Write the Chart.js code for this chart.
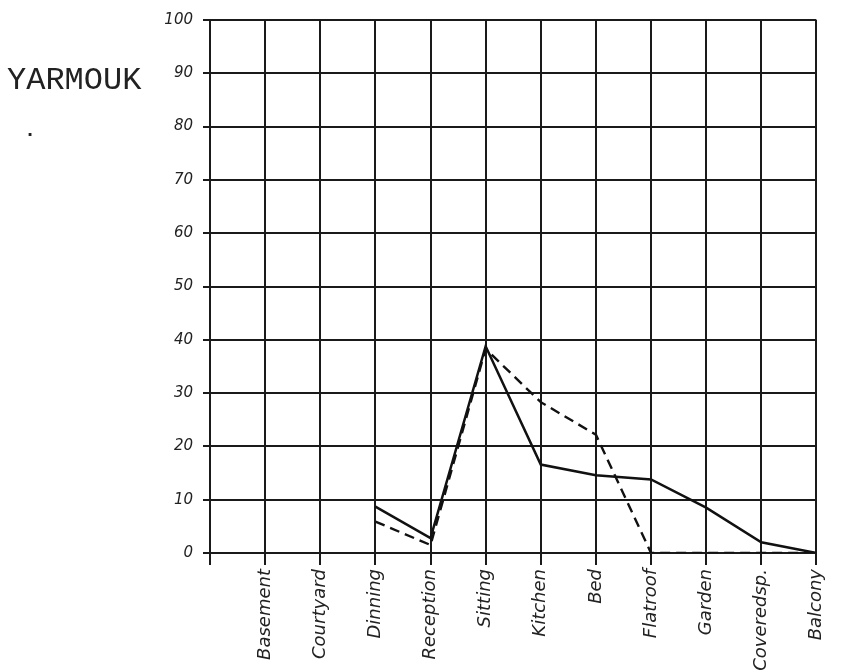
<!DOCTYPE html>
<html>
<head>
<meta charset="utf-8">
<script src="https://cdn.jsdelivr.net/npm/chart.js@4/dist/chart.umd.min.js"></script>
<style>
  html, body { margin:0; padding:0; background:#fff; }
  #wrap { width:842px; height:672px; position:relative; }
</style>
</head>
<body>
<div id="wrap"><canvas id="c" width="842" height="672"></canvas></div>
<script>
// rooms along the bottom (first grid line is the y axis itself)
const categories = ['Basement','Courtyard','Dinning','Reception','Sitting','Kitchen','Bed','Flatroof','Garden','Coveredsp.','Balcony'];
// solid line
const solidValues  = [null, null, 8.7, 2.8, 38.8, 16.6, 14.6, 13.8, 8.5, 2.0, 0];
// dashed line
const dashedValues = [null, null, 5.9, 1.5, 38.3, 28.3, 22.2, 0, 0, 0, 0];
const yTicks = [0,10,20,30,40,50,60,70,80,90,100];

const toPoints = vals => categories.map((c,i)=>({ x:i+1, y:vals[i] }));

// caption on the left
const caption = {
  id:'caption',
  afterDraw(chart){
    const ctx = chart.ctx;
    ctx.save();
    ctx.fillStyle = '#222';
    ctx.font = '32px "Liberation Mono", monospace';
    ctx.textBaseline = 'alphabetic';
    ctx.fillText('YARMOUK', 7, 89);
    ctx.font = 'bold 16px "DejaVu Sans"';
    ctx.fillText('.', 27, 136);
    ctx.restore();
  }
};

new Chart(document.getElementById('c').getContext('2d'), {
  type:'line',
  data:{
    datasets:[
      { label:'solid', data:toPoints(solidValues), borderColor:'#111', borderWidth:2.5,
        pointRadius:0, tension:0, fill:false },
      { label:'dashed', data:toPoints(dashedValues), borderColor:'#111', borderWidth:2.4,
        borderDash:[10,6], pointRadius:0, tension:0, fill:false }
    ]
  },
  options:{
    responsive:false,
    animation:false,
    layout:{ padding:{ left:0, top:20, right:24, bottom:0 } },
    plugins:{ legend:{ display:false }, tooltip:{ enabled:false } },
    scales:{
      x:{
        type:'linear', min:0, max:categories.length,
        afterFit: s => { s.height = 119; },
        afterBuildTicks: s => { s.ticks = [0, ...categories.map((c,i)=>i+1)].map(v=>({ value:v })); },
        grid:{ color:'#1a1a1a', lineWidth:2, tickLength:12 },
        border:{ color:'#1a1a1a', width:2 },
        ticks:{
          autoSkip:false, minRotation:90, maxRotation:90, padding:4,
          color:'#222', font:{ family:'"DejaVu Sans"', style:'italic', size:18 },
          callback: v => categories[v-1] || ''
        }
      },
      y:{
        min:0, max:100,
        afterFit: s => { s.width = 210; },
        afterBuildTicks: s => { s.ticks = yTicks.map(v=>({ value:v })); },
        grid:{ color:'#1a1a1a', lineWidth:2, tickLength:7 },
        border:{ color:'#1a1a1a', width:2 },
        ticks:{
          padding:10, color:'#222',
          font:{ family:'"DejaVu Sans"', style:'italic', size:15 }
        }
      }
    }
  },
  plugins:[caption]
});
</script>
</body>
</html>
